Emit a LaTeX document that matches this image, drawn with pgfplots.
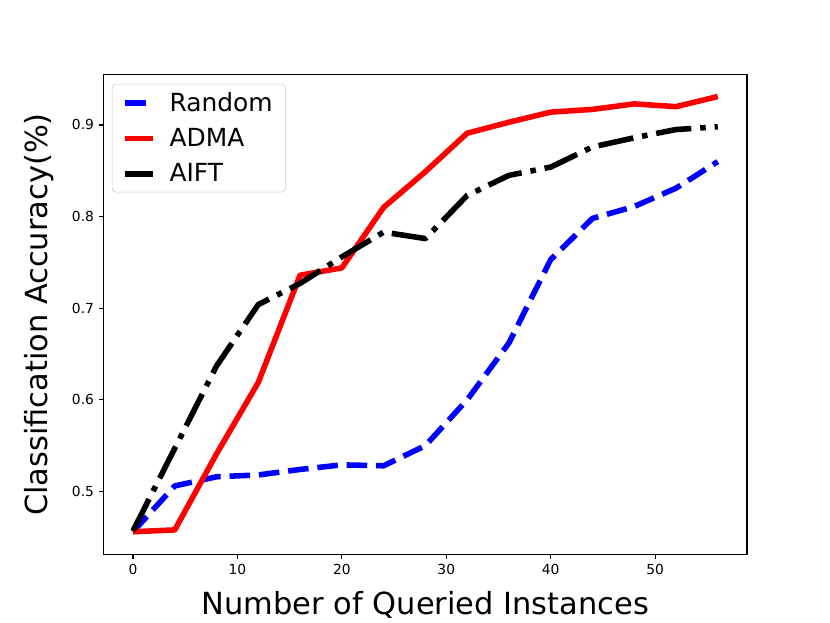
\documentclass[border=0pt]{standalone}
\usepackage{pgfplots}
\pgfplotsset{compat=1.18}
\usepackage{fontspec}
\setmainfont{DejaVu Sans}
\begin{document}
\begin{tikzpicture}
\useasboundingbox (0,0) rectangle (8.3in,6.23in);
\begin{axis}[
  at={(1.0375in,0.6853in)}, anchor=south west,
  scale only axis, width=6.4325in, height=4.7971in,
  xmin=-2.8, xmax=58.8, ymin=0.4312, ymax=0.9548,
  xtick={0,10,20,30,40,50},
  ytick={0.5,0.6,0.7,0.8,0.9},
  yticklabels={0.5,0.6,0.7,0.8,0.9},
  xtick pos=bottom, ytick pos=left,
  tick align=outside,
  major tick length=3.5bp,
  every tick/.style={black, line width=0.8bp},
  axis line style={line width=0.8bp, black},
  tick label style={font=\fontsize{10}{12}\selectfont},
  /pgf/number format/assume math mode=true,
  xlabel={Number of Queried Instances},
  ylabel={Classification Accuracy(\%)},
  label style={font=\fontsize{22}{26}\selectfont},
  xlabel style={yshift=-5.5bp},
  ylabel style={yshift=6bp},
  legend style={at={(0.0125,0.981)}, anchor=north west, draw=black!20, rounded corners=3bp,
    font=\fontsize{18}{21}\selectfont, inner xsep=7.4bp, inner ysep=4bp, row sep=6.8bp,
    column sep=8bp,
    fill=white, fill opacity=0.8, text opacity=1},
  legend cell align=left,
  legend image code/.code={\draw[#1] (0bp,0bp) -- (20bp,0bp);},
]
\addplot[blue, line width=4bp, dash pattern=on 14.8bp off 6.4bp, line join=round] coordinates {
(0,0.456) (4,0.506) (8,0.516) (12,0.518) (16,0.524) (20,0.529) (24,0.528) (28,0.550)
(32,0.600) (36,0.662) (40,0.753) (44,0.798) (48,0.811) (52,0.831) (56,0.860)};
\addlegendentry{Random}
\addplot[red, line width=4bp, line join=round] coordinates {
(0,0.456) (4,0.458) (8,0.541) (12,0.619) (16,0.736) (20,0.744) (24,0.810) (28,0.849)
(32,0.891) (36,0.903) (40,0.914) (44,0.917) (48,0.923) (52,0.920) (56,0.931)};
\addlegendentry{ADMA}
\addplot[black, line width=4bp, dash pattern=on 25.6bp off 6.4bp on 4bp off 6.4bp, line join=round] coordinates {
(0,0.457) (4,0.547) (8,0.637) (12,0.704) (16,0.727) (20,0.756) (24,0.783) (28,0.776)
(32,0.823) (36,0.845) (40,0.854) (44,0.876) (48,0.886) (52,0.895) (56,0.898)};
\addlegendentry{AIFT}
\end{axis}
\end{tikzpicture}
\end{document}
